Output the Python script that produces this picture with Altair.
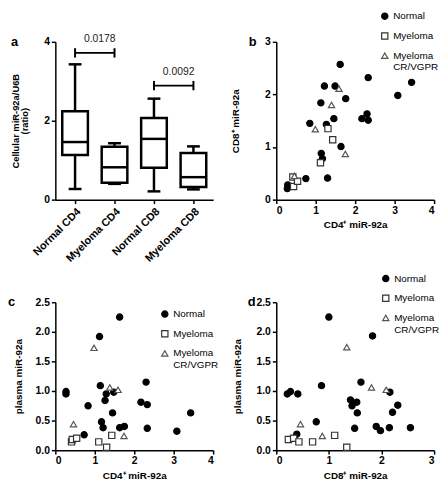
import altair as alt
import pandas as pd

FONT = "Liberation Sans"

# ---- panel a: box summaries ----
box_cats = ["Normal CD4", "Myeloma CD4", "Normal CD8", "Myeloma CD8"]
box_min = [0.27, 0.40, 0.21, 0.26]
box_q1 = [1.13, 0.43, 0.81, 0.32]
box_med = [1.46, 0.82, 1.54, 0.57]
box_q3 = [2.24, 1.34, 2.07, 1.18]
box_max = [3.43, 1.43, 2.56, 1.35]

sig_from = ["Normal CD4", "Normal CD8"]
sig_to = ["Myeloma CD4", "Myeloma CD8"]
sig_y = [3.72, 2.89]
sig_p = ["0.0178", "0.0092"]

groups = ["Normal", "Myeloma", "Myeloma CR/VGPR"]
letters = ["a", "b", "c", "d"]

# ---- panel b: CD4 (x) vs CD8 (y) ----
b_norm_x = [0.29, 0.28, 0.75, 0.85, 1.14, 1.17, 1.30, 1.13, 1.22, 1.27, 1.46, 1.49, 1.62, 1.64, 1.76, 2.17, 2.30, 2.33, 2.33, 3.08, 3.43]
b_norm_y = [0.28, 0.21, 0.40, 1.45, 0.88, 0.78, 0.41, 1.84, 2.16, 1.43, 1.54, 2.16, 2.57, 1.01, 1.92, 1.54, 1.63, 1.51, 2.32, 1.98, 2.23]
b_mye_x = [0.42, 0.44, 0.54, 1.12, 1.31, 1.43]
b_mye_y = [0.43, 0.25, 0.35, 0.70, 1.35, 1.14]
b_cr_x = [0.46, 0.99, 1.40, 1.59, 1.75]
b_cr_y = [0.45, 1.34, 1.80, 2.11, 0.87]

# ---- panel c: CD4 (x) vs plasma (y) ----
c_norm_x = [0.27, 0.27, 0.83, 0.73, 1.12, 1.63, 1.14, 1.29, 1.26, 1.48, 1.45, 1.17, 1.21, 1.63, 1.75, 2.17, 2.33, 2.30, 2.33, 3.08, 3.43]
c_norm_y = [0.99, 0.95, 0.75, 0.26, 1.92, 2.25, 1.09, 0.95, 0.84, 0.98, 0.63, 0.48, 0.38, 0.38, 0.40, 0.81, 0.77, 1.15, 0.37, 0.32, 0.63]
c_mye_x = [0.41, 0.43, 0.54, 1.10, 1.30, 1.43]
c_mye_y = [0.14, 0.18, 0.20, 0.14, 0.05, 0.25]
c_cr_x = [0.46, 0.98, 1.38, 1.59, 1.74]
c_cr_y = [0.44, 1.73, 1.06, 1.02, 0.24]

# ---- panel d: CD8 (x) vs plasma (y) ----
d_norm_x = [0.21, 0.27, 0.41, 0.39, 0.76, 0.86, 1.00, 1.41, 1.44, 1.53, 1.54, 1.49, 1.61, 1.83, 1.90, 1.98, 2.15, 2.16, 2.21, 2.31, 2.55]
d_norm_y = [0.95, 0.99, 0.95, 0.27, 0.48, 1.09, 2.25, 0.85, 0.75, 0.81, 0.63, 0.37, 1.15, 1.93, 0.40, 0.33, 0.38, 0.98, 0.64, 0.76, 0.38]
d_mye_x = [0.23, 0.33, 0.43, 0.69, 1.11, 1.34]
d_mye_y = [0.18, 0.20, 0.14, 0.14, 0.25, 0.05]
d_cr_x = [0.46, 0.875, 1.34, 1.81, 2.09]
d_cr_y = [0.44, 0.24, 1.74, 1.06, 1.02]

W = 160
H_TOP = 160
H_BOT = 150
LW = 2.5


def letter_layer(letter, dx):
    return alt.Chart(alt.Data(values=[{"t": letter}])).mark_text(
        align="left", baseline="middle", fontSize=13, fontWeight="bold", font=FONT, color="black"
    ).encode(x=alt.value(dx), y=alt.value(0), text="t:N")


# ---------- panel a ----------
box_df = pd.DataFrame({"cat": box_cats, "mn": box_min, "q1": box_q1, "med": box_med,
                       "q3": box_q3, "mx": box_max})
sig_df = pd.DataFrame({"s": sig_from, "e": sig_to, "y": sig_y, "p": sig_p})
ends_df = pd.DataFrame({"cat": sig_from + sig_to, "y": sig_y + sig_y})

xa_scale = alt.Scale(domain=box_cats, paddingInner=0, paddingOuter=0)
xa = alt.X("cat:N", scale=xa_scale,
           axis=alt.Axis(title=None, labelAngle=-45, labelPadding=2, labelFontSize=11))
ya_scale = alt.Scale(domain=[0, 4], nice=False)
ya_axis = alt.Axis(values=[0, 1, 2, 3, 4], title=["Cellular miR-92a/U6B", "(ratio)"],
                   titlePadding=14, titleLineHeight=9.5, titleFontSize=9.5)

base_a = alt.Chart(box_df)
whisk = base_a.mark_rule(color="black", strokeWidth=LW).encode(
    x=xa, y=alt.Y("mn:Q", scale=ya_scale, axis=ya_axis), y2="mx:Q")
boxes = base_a.mark_bar(size=26, fill="white", stroke="black", strokeWidth=LW).encode(
    x=xa, y="q1:Q", y2="q3:Q")
medians = base_a.mark_tick(size=26, thickness=LW, color="black", opacity=1).encode(x=xa, y="med:Q")
caps_lo = base_a.mark_tick(size=13, thickness=LW, color="black", opacity=1).encode(x=xa, y="mn:Q")
caps_hi = base_a.mark_tick(size=13, thickness=LW, color="black", opacity=1).encode(x=xa, y="mx:Q")

brk = alt.Chart(sig_df).mark_rule(color="black", strokeWidth=2).encode(
    x=alt.X("s:N", scale=xa_scale), x2="e:N", y="y:Q")
brk_ends = alt.Chart(ends_df).mark_point(shape="M0,-1L0,1", size=90, color="black",
                                         strokeWidth=2, opacity=1, filled=False).encode(
    x=alt.X("cat:N", scale=xa_scale), y="y:Q")
brk_txt = alt.Chart(sig_df).mark_text(fontSize=10.5, font=FONT, dy=-14, dx=5, color="#222").encode(
    x=alt.X("s:N", scale=xa_scale, bandPosition=1), y="y:Q", text="p:N")

panel_a = alt.layer(whisk, boxes, medians, caps_lo, caps_hi, brk, brk_ends, brk_txt,
                    letter_layer(letters[0], -45)).properties(width=W, height=H_TOP)


# ---------- scatter panels ----------
def scatter(xs_list, ys_list, xtitle, ytitle, xmax, ymax, xvals, yvals, yfmt,
            legx, legy, letter, ldx, ytpad, h):
    rows = []
    for g, xs, ys in zip(groups, xs_list, ys_list):
        rows += [{"x": x, "y": y, "g": g} for x, y in zip(xs, ys)]
    df = pd.DataFrame(rows)
    leg = alt.Legend(title=None, orient="none", legendX=legx, legendY=legy, padding=0,
                     symbolSize=40, symbolStrokeWidth=1.2, labelFontSize=10, labelFont=FONT,
                     labelColor="black", labelFontWeight="normal", rowPadding=8, labelOffset=3.5,
                     labelExpr="datum.label == 'Myeloma CR/VGPR' ? ['Myeloma', 'CR/VGPR'] : datum.label")
    pts = alt.Chart(df).mark_point(size=40, strokeWidth=1.2, opacity=1).encode(
        x=alt.X("x:Q", scale=alt.Scale(domain=[0, xmax], nice=False),
                axis=alt.Axis(values=xvals, title=xtitle, titlePadding=4)),
        y=alt.Y("y:Q", scale=alt.Scale(domain=[0, ymax], nice=False),
                axis=alt.Axis(values=yvals, title=ytitle, format=yfmt, titlePadding=ytpad)),
        shape=alt.Shape("g:N", scale=alt.Scale(domain=groups, range=["circle", "square", "triangle-up"]), legend=leg),
        fill=alt.Fill("g:N", scale=alt.Scale(domain=groups, range=["black", "white", "white"]), legend=leg),
        stroke=alt.Stroke("g:N", scale=alt.Scale(domain=groups, range=["black", "#333333", "#555555"]), legend=leg),
    )
    return alt.layer(pts, letter_layer(letter, ldx)).properties(width=W, height=h)


panel_b = scatter([b_norm_x, b_mye_x, b_cr_x], [b_norm_y, b_mye_y, b_cr_y],
                  "CD4⁺ miR-92a", "CD8⁺ miR-92a", 4, 3, [0, 1, 2, 3, 4], [0, 1, 2, 3], "d",
                  105, -31, letters[1], -28, 24, H_TOP)
panel_c = scatter([c_norm_x, c_mye_x, c_cr_x], [c_norm_y, c_mye_y, c_cr_y],
                  "CD4⁺ miR-92a", "plasma miR-92a", 4, 2.5, [0, 1, 2, 3, 4],
                  [0, 0.5, 1, 1.5, 2, 2.5], ".1f", 106, 7, letters[2], -48, 12, H_BOT)
panel_d = scatter([d_norm_x, d_mye_x, d_cr_x], [d_norm_y, d_mye_y, d_cr_y],
                  "CD8⁺ miR-92a", "plasma miR-92a", 3, 2.5, [0, 1, 2, 3],
                  [0, 0.5, 1, 1.5, 2, 2.5], ".1f", 106, -29, letters[3], -29, 14, H_BOT)

chart = alt.concat(panel_a, panel_b, panel_c, panel_d, columns=2,
                   spacing=alt.RowColnumber(row=104, column=64), bounds="flush",
                   align=alt.RowColLayoutAlign(row="each", column="all")).resolve_scale(
    shape="independent", fill="independent", stroke="independent"
).properties(
    padding={"left": 0, "top": 0, "right": 0, "bottom": 0},
    autosize=alt.AutoSizeParams(type="pad"),
).configure_view(stroke=None).configure_axis(
    grid=False, domainColor="black", domainWidth=1.5, tickColor="black", tickWidth=1.5,
    tickSize=4, labelFont=FONT, labelFontSize=10.5, labelFontWeight="bold", labelColor="black",
    titleFont=FONT, titleFontSize=10, titleFontWeight="bold", titleColor="black", labelPadding=2
)

chart.save("out.html", embed_options={"renderer": "svg", "actions": False})
